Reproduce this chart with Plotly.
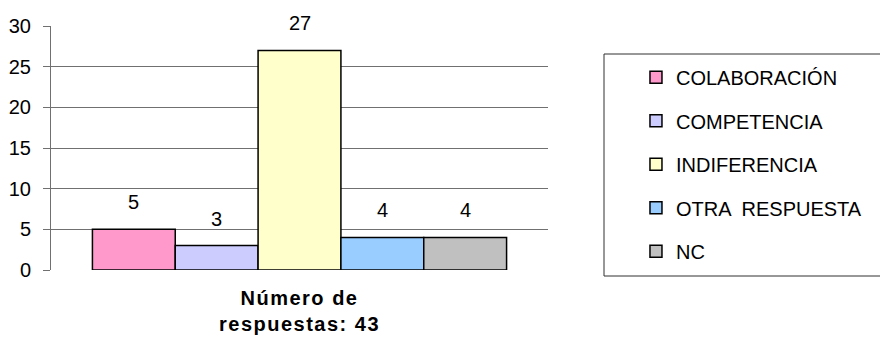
import plotly.graph_objects as go

categories = ["COLABORACIÓN", "COMPETENCIA", "INDIFERENCIA", "OTRA  RESPUESTA", "NC"]
values = [5, 3, 27, 4, 4]
colors = ["#FF99CC", "#CCCCFF", "#FFFFCC", "#99CCFF", "#C0C0C0"]
group_label_lines = ["Número de", "respuestas: 43"]
y_ticks = [0, 5, 10, 15, 20, 25, 30]

FONT = "Arial, Liberation Sans, sans-serif"

fig = go.Figure()
for i, (name, v, c) in enumerate(zip(categories, values, colors)):
    fig.add_trace(go.Bar(
        x=[i], y=[v], name=name, width=1,
        marker=dict(color=c, line=dict(color="black", width=1.5)),
        legendgroup=name, showlegend=True,
    ))
    fig.add_annotation(x=i, y=v, text=str(v), showarrow=False, yshift=27,
                       yanchor="middle", font=dict(size=20, color="black", family=FONT))

tick_text = "<br>".join('<span style="letter-spacing:1.5px"><b>' + s + "</b></span>"
                        for s in group_label_lines)

fig.update_layout(
    width=880, height=340,
    margin=dict(l=51, r=332, t=26, b=70, autoexpand=False),
    paper_bgcolor="white", plot_bgcolor="white",
    font=dict(family=FONT, size=20, color="black"),
    barmode="overlay",
    showlegend=True,
    legend=dict(x=1.177, y=0.87, xanchor="left", yanchor="top",
                font=dict(size=20, family=FONT, color="black"),
                borderwidth=0, bgcolor="rgba(0,0,0,0)",
                tracegroupgap=14.5, traceorder="grouped"),
    xaxis=dict(range=[-1.0, 5.0], tickvals=[2],
               ticktext=[tick_text], automargin=False,
               showgrid=False, zeroline=False, showline=False, ticks="",
               ticklabelstandoff=14,
               tickfont=dict(size=20, family=FONT, color="black"),
               fixedrange=True),
    yaxis=dict(range=[0, 30], tickvals=y_ticks, showgrid=True, gridcolor="#707070",
               gridwidth=1, zeroline=False, showline=True, linecolor="#707070",
               linewidth=1, ticks="outside", ticklen=7, tickcolor="#707070",
               ticklabelstandoff=8, automargin=False,
               tickfont=dict(size=20, family=FONT, color="black")),
    shapes=[dict(type="rect", xref="paper", yref="paper",
                 x0=(604 - 51) / 497, x1=1.8, y0=(270 - 276) / 244, y1=(270 - 54) / 244,
                 line=dict(color="#303030", width=1), fillcolor="rgba(0,0,0,0)", layer="below")],
)

fig.write_html("out.html")
